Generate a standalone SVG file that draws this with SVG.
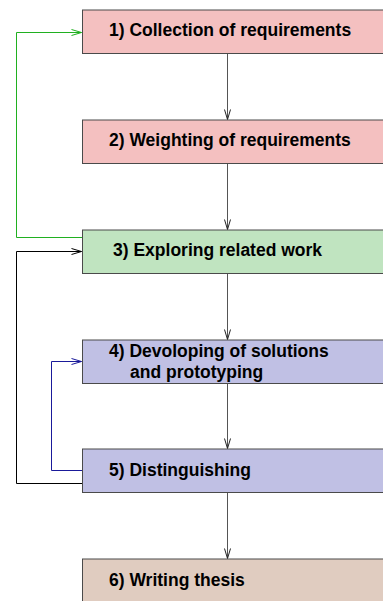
<svg xmlns="http://www.w3.org/2000/svg" width="383" height="601" viewBox="0 0 383 601">
<style>
.box{stroke:#4a4a4a;stroke-width:1}
.t{font-family:"Liberation Sans",Arial,sans-serif;font-weight:bold;font-size:17.5px;fill:#000}
.c{fill:none;stroke-width:1}
</style>
<defs>
<marker id="ag" markerWidth="12" markerHeight="8" refX="11" refY="4" orient="auto" markerUnits="userSpaceOnUse"><path d="M1,1 L11,4 L1,7" fill="none" stroke="#20b020" stroke-width="1"/></marker>
<marker id="ak" markerWidth="12" markerHeight="8" refX="11" refY="4" orient="auto" markerUnits="userSpaceOnUse"><path d="M1,1 L11,4 L1,7" fill="none" stroke="#000" stroke-width="1"/></marker>
<marker id="ab" markerWidth="12" markerHeight="8" refX="11" refY="4" orient="auto" markerUnits="userSpaceOnUse"><path d="M1,1 L11,4 L1,7" fill="none" stroke="#1a1a9a" stroke-width="1"/></marker>
<marker id="ad" markerWidth="12" markerHeight="8" refX="11" refY="4" orient="auto" markerUnits="userSpaceOnUse"><path d="M1,1 L11,4 L1,7" fill="none" stroke="#222" stroke-width="1"/></marker>
</defs>
<g id="connectors">
<path class="c" stroke="#555" d="M227.5,53.5 V119.5" marker-end="url(#ad)"/>
<path class="c" stroke="#555" d="M227.5,163.5 V229.5" marker-end="url(#ad)"/>
<path class="c" stroke="#555" d="M227.5,273.5 V339.5" marker-end="url(#ad)"/>
<path class="c" stroke="#555" d="M227.5,383.5 V448.5" marker-end="url(#ad)"/>
<path class="c" stroke="#555" d="M227.5,492.5 V558.5" marker-end="url(#ad)"/>
<path class="c" stroke="#20b020" d="M82,237.5 H16.5 V32.5 H81.5" marker-end="url(#ag)"/>
<path class="c" stroke="#000" d="M82,483.5 H16.5 V251.5 H81.5" marker-end="url(#ak)"/>
<path class="c" stroke="#1a1a9a" d="M82,470.5 H51.5 V361.5 H81.5" marker-end="url(#ab)"/>
</g>
<g id="n1"><rect class="box" x="82.5" y="10" width="310" height="43.5" fill="#f4c0c0"/><text class="t" x="109" y="35.5">1) Collection of requirements</text></g>
<g id="n2"><rect class="box" x="82.5" y="120" width="310" height="43.5" fill="#f4c0c0"/><text class="t" x="109" y="145.5">2) Weighting of requirements</text></g>
<g id="n3"><rect class="box" x="82.5" y="230" width="310" height="43.5" fill="#c0e4c0"/><text class="t" x="113" y="255.5">3) Exploring related work</text></g>
<g id="n4"><rect class="box" x="82.5" y="340" width="310" height="43.5" fill="#c0c0e4"/><text class="t" x="109" y="357">4) Devoloping of solutions</text><text class="t" x="130" y="378">and prototyping</text></g>
<g id="n5"><rect class="box" x="82.5" y="449" width="310" height="43.5" fill="#c0c0e4"/><text class="t" x="109" y="475.5">5) Distinguishing</text></g>
<g id="n6"><rect class="box" x="82.5" y="559" width="310" height="60" fill="#e0ccc0"/><text class="t" x="109" y="585.5">6) Writing thesis</text></g>
</svg>
